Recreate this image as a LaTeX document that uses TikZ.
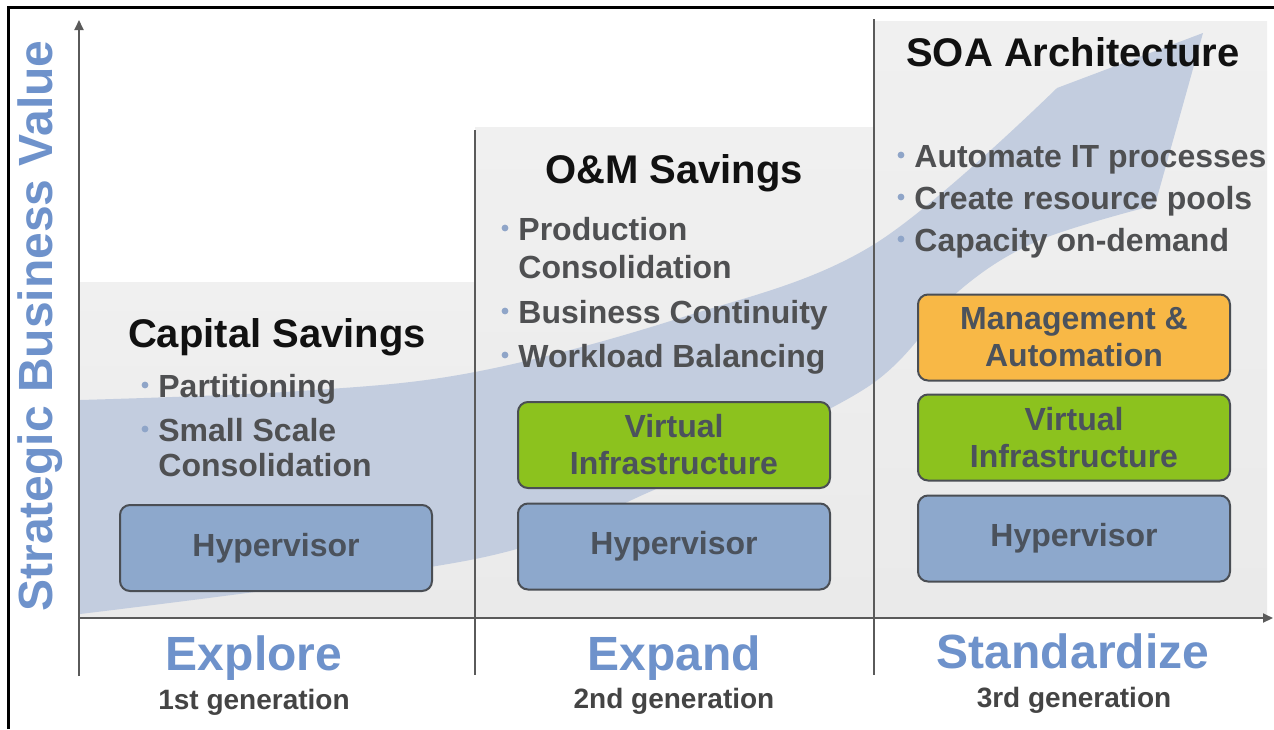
\documentclass[tikz,border=0pt]{standalone}
\usepackage{fontspec}
\setmainfont{Liberation Sans}
\usetikzlibrary{arrows.meta}
\definecolor{bluetxt}{HTML}{6E92CB}
\definecolor{bodyc}{HTML}{4F5052}
\definecolor{headc}{HTML}{111111}
\definecolor{genc}{HTML}{444444}
\definecolor{panelc}{HTML}{EAEAEA}
\definecolor{paneltop}{HTML}{F0F0F0}
\definecolor{arrowc}{HTML}{C3CDDF}
\definecolor{axisc}{HTML}{5A5A5A}
\definecolor{boxborder}{HTML}{4A4E54}
\definecolor{boxtext}{HTML}{4B525C}
\definecolor{hypc}{HTML}{8DA8CC}
\definecolor{greenc}{HTML}{8CC21E}
\definecolor{orangec}{HTML}{F8B846}
\definecolor{bulc}{HTML}{8FA5C8}
\tikzset{
 axisline/.style={draw=axisc, line width=1pt},
 divline/.style={draw=axisc, line width=0.8pt},
 layer/.style={draw=boxborder, line width=1pt, rounded corners=5pt, minimum width=156pt, minimum height=43pt, align=center, font=\fontsize{16pt}{18.5pt}\selectfont\bfseries, text=boxtext, inner sep=0pt},
 hyp/.style={layer, fill=hypc},
 virt/.style={layer, fill=greenc},
 mgmt/.style={layer, fill=orangec},
 headtxt/.style={font=\fontsize{20pt}{24pt}\selectfont\bfseries, text=headc, inner sep=0pt, anchor=base},
 bultxt/.style={font=\fontsize{16pt}{19pt}\selectfont\bfseries, text=bodyc, inner sep=0pt, anchor=base west},
 phase/.style={font=\fontsize{24pt}{28pt}\selectfont\bfseries, text=bluetxt, inner sep=0pt, anchor=base},
 gen/.style={font=\fontsize{14pt}{17pt}\selectfont\bfseries, text=genc, inner sep=0pt, anchor=base},
 bulletdot/.style={fill=bulc},
}
\begin{document}
\begin{tikzpicture}[x=0.5pt,y=-0.5pt]
\useasboundingbox (0,0) rectangle (1274,729);
\fill[white] (0,0) rectangle (1274,729);
% frame
\draw[black, line width=1.5pt] (8,729) -- (8,7) -- (1274,7);
% panels
\shade[top color=paneltop, bottom color=panelc] (80,282) rectangle (475,617);
\shade[top color=paneltop, bottom color=panelc] (475,127) rectangle (874,617);
\shade[top color=paneltop, bottom color=panelc] (874,21) rectangle (1267,617);
% swoosh arrow
\fill[arrowc] plot[smooth, tension=0.6] coordinates {(80,400) (300,391) (475,372) (680,318) (873,245) (1057,88)}
  -- (1203,33) -- (1155,205)
  -- plot[smooth, tension=0.55] coordinates {(1155,205) (1040,240) (960,290) (866,388) (647,493) (480,558) (80,614)} -- cycle;
% dividers
\coordinate (d1t) at (475,130); \coordinate (d1b) at (475,675);
\coordinate (d2t) at (874,19);  \coordinate (d2b) at (874,675);
\draw[divline] (d1t) -- (d1b);
\draw[divline] (d2t) -- (d2b);
% axes
\coordinate (yb) at (79,676); \coordinate (yt) at (79,20);
\coordinate (xl) at (79,618); \coordinate (xr) at (1273,618);
\draw[axisline, -{Triangle[length=5pt,width=4.5pt]}] (yb) -- (yt);
\draw[axisline, -{Triangle[length=5pt,width=4.5pt]}] (xl) -- (xr);
% vertical axis label
\node[rotate=90, font=\fontsize{24pt}{28pt}\selectfont\bfseries, text=bluetxt, inner sep=0pt] (sbv) at (40,326) {Strategic Business Value};
% column 1
\node[headtxt] (cap) at (277,347) {Capital Savings};
\node[bultxt] (c1a) at (158,397) {Partitioning};
\node[bultxt] (c1b) at (158,441) {Small Scale};
\node[bultxt] (c1c) at (158,476) {Consolidation};
\node[hyp] (h1) at (276,548) {Hypervisor};
% column 2
\node[headtxt] (om) at (674,183) {O\&M Savings};
\node[bultxt] (c2a) at (518,240) {Production};
\node[bultxt] (c2b) at (518,278) {Consolidation};
\node[bultxt] (c2c) at (518,323) {Business Continuity};
\node[bultxt] (c2d) at (518,367) {Workload Balancing};
\node[virt] (v2) at (674,445) {Virtual\\Infrastructure};
\node[hyp] (h2) at (674,546.5) {Hypervisor};
% column 3
\node[headtxt] (soa) at (1073,66) {SOA Architecture};
\node[bultxt] (c3a) at (914,167) {Automate IT processes};
\node[bultxt] (c3b) at (914,209) {Create resource pools};
\node[bultxt] (c3c) at (914,251) {Capacity on-demand};
\node[mgmt] (m3) at (1074,337.5) {Management \&\\Automation};
\node[virt] (v3) at (1074,437.5) {Virtual\\Infrastructure};
\node[hyp] (h3) at (1074,538.5) {Hypervisor};
% bullet dots
\foreach \b in {c1a,c1b,c2a,c2c,c2d,c3a,c3b,c3c}{
  \fill[bulletdot] (\b.base west) ++(-13,-12) circle[radius=1.7pt];
}
% phases
\node[phase] (p1) at (254,670) {Explore};
\node[gen] (g1) at (254,709) {1st generation};
\node[phase] (p2) at (674,670) {Expand};
\node[gen] (g2) at (674,708) {2nd generation};
\node[phase] (p3) at (1073,668) {Standardize};
\node[gen] (g3) at (1074,707) {3rd generation};
\end{tikzpicture}
\end{document}
